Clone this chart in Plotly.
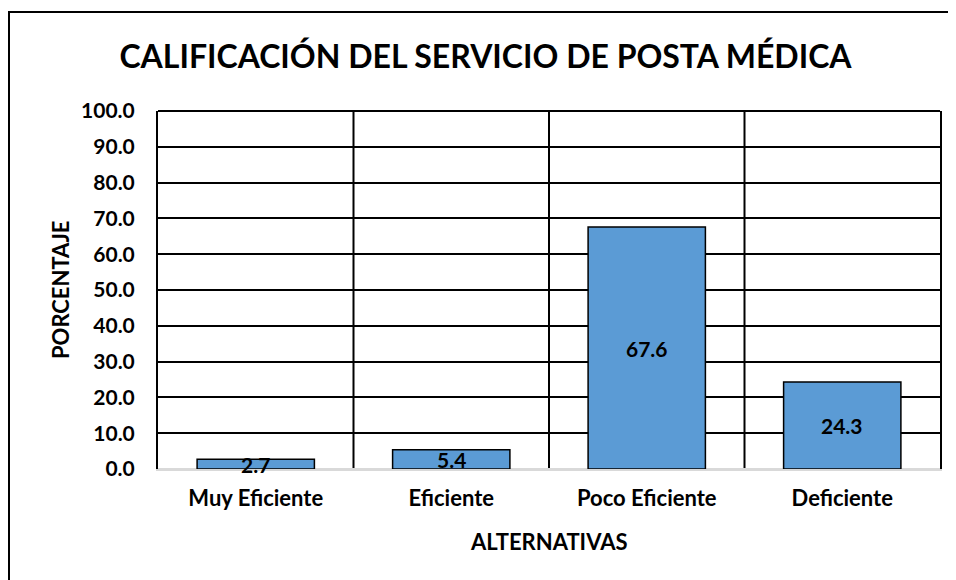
import plotly.graph_objects as go

categories = ["Muy Eficiente", "Eficiente", "Poco Eficiente", "Deficiente"]
values = [2.7, 5.4, 67.6, 24.3]
tick_values = [0, 10, 20, 30, 40, 50, 60, 70, 80, 90, 100]
tick_labels = ["0.0", "10.0", "20.0", "30.0", "40.0", "50.0", "60.0", "70.0", "80.0", "90.0", "100.0"]

FONT = "Lato"
OFF = 8  # page body margin offset
W, H = 956 - OFF, 580 - OFF
L, T = 158 - OFF, 111 - OFF
R = W - (940 - OFF)
B = H - (469 - OFF)
pw = W - L - R
ph = H - T - B

def px_x(x):  # window x -> paper x
    return (x - OFF - L) / pw

def px_y(y):  # window y -> paper y
    return (H - B - (y - OFF)) / ph

fig = go.Figure()
fig.add_trace(go.Bar(
    x=categories, y=values,
    marker=dict(color="#5B9BD5", line=dict(color="black", width=1.5)),
    hoverinfo="x+y",
))

# data labels centered in each bar
for c, v in zip(categories, values):
    fig.add_annotation(x=c, y=v / 2, xref="x", yref="y", text=f"<b>{v:.1f}</b>",
                       showarrow=False, font=dict(family=FONT, size=21, color="black"),
                       yanchor="middle")

# vertical category separators
for i in range(len(categories) - 1):
    fig.add_shape(type="line", xref="x", yref="y domain", x0=i + 0.5, x1=i + 0.5, y0=0, y1=1,
                  line=dict(color="black", width=2), layer="below")
# top border of plot area
fig.add_shape(type="line", xref="paper", yref="paper", x0=0, x1=1, y0=1, y1=1,
              line=dict(color="black", width=2), layer="below")

# outer frame (left and top edges visible)
fig.add_shape(type="path", xref="paper", yref="paper",
              path=f"M {px_x(9)} {px_y(600)} L {px_x(9)} {px_y(12)} L {px_x(990)} {px_y(12)}",
              line=dict(color="black", width=2), layer="below")

fig.add_annotation(x=0.5, y=px_y(541), xref="paper", yref="paper",
                   text="<b>ALTERNATIVAS</b>", showarrow=False,
                   font=dict(family=FONT, size=22, color="black"), yanchor="middle")
fig.add_annotation(x=px_x(60), y=px_y(290), xref="paper", yref="paper",
                   text="<b>PORCENTAJE</b>", showarrow=False, textangle=-90,
                   font=dict(family=FONT, size=22, color="black"), xanchor="center", yanchor="middle")

fig.update_layout(
    width=W, height=H,
    margin=dict(l=L, r=R, t=T, b=B),
    paper_bgcolor="white", plot_bgcolor="white",
    bargap=0.4,
    showlegend=False,
    title=dict(text="<b>CALIFICACIÓN DEL SERVICIO DE POSTA MÉDICA</b>",
               x=(485.5 - OFF) / W, xanchor="center", y=1 - (57 - OFF) / H, yanchor="middle",
               font=dict(family=FONT, size=32, color="black")),
    xaxis=dict(showgrid=False, showline=True, linecolor="#d9d9d9", linewidth=2,
               ticks="", ticklabelstandoff=9,
               tickfont=dict(family=FONT, size=22, color="black", weight="bold")),
    yaxis=dict(range=[0, 100], tickvals=tick_values, ticktext=tick_labels,
               showgrid=True, gridcolor="black", gridwidth=2,
               zeroline=True, zerolinecolor="#d9d9d9", zerolinewidth=2,
               showline=True, mirror=True, linecolor="black", linewidth=2,
               ticks="", ticklabelstandoff=17,
               tickfont=dict(family=FONT, size=21, color="black", weight="bold")),
)

fig.write_html("out.html")
